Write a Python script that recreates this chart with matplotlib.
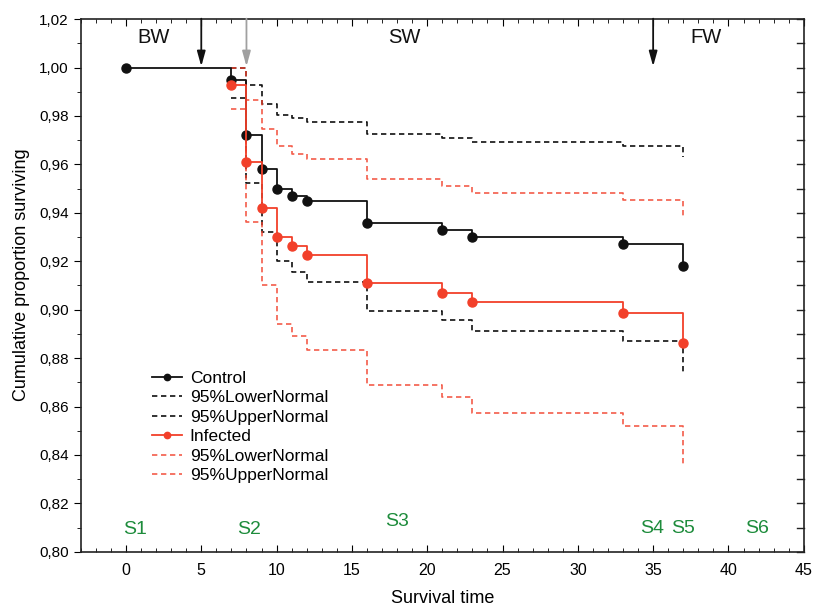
import matplotlib
matplotlib.use('Agg')
import matplotlib.pyplot as plt
from matplotlib.ticker import MultipleLocator, FuncFormatter

plt.rcParams['font.family'] = ['Liberation Sans', 'DejaVu Sans']

# event times (days) and Kaplan-Meier estimates
t_control = [0, 7, 8, 9, 10, 11, 12, 16, 21, 23, 33, 37]
s_control = [1.000, 0.995, 0.972, 0.958, 0.950, 0.947, 0.945, 0.936, 0.933, 0.930, 0.927, 0.918]
t_infected = [0, 7, 8, 9, 10, 11, 12, 16, 21, 23, 33, 37]
s_infected = [1.000, 0.993, 0.961, 0.942, 0.930, 0.9265, 0.9226, 0.911, 0.907, 0.903, 0.8987, 0.8863]

# 95% normal confidence bands
t_ci = [7, 8, 9, 10, 11, 12, 16, 21, 23, 33, 37]
control_lower = [0.9873, 0.9522, 0.932, 0.9199, 0.9155, 0.9116, 0.8996, 0.8958, 0.8911, 0.887, 0.8732]
control_upper = [1.000, 0.9926, 0.985, 0.9805, 0.9792, 0.9774, 0.9726, 0.971, 0.9692, 0.9675, 0.963]
infected_lower = [0.9829, 0.9361, 0.910, 0.8941, 0.8893, 0.8835, 0.8687, 0.8638, 0.8574, 0.8521, 0.8363]
infected_upper = [1.000, 0.9867, 0.9747, 0.9675, 0.9644, 0.9623, 0.954, 0.951, 0.9482, 0.9455, 0.9375]

# water-phase transfers and sampling points
phase_labels = ['BW', 'SW', 'FW']
phase_x = [1.8, 18.5, 38.5]
transfer_x = [5, 8, 35]
transfer_colors = ['#111111', '#a0a0a0', '#111111']
sample_labels = ['S1', 'S2', 'S3', 'S4', 'S5', 'S6']
sample_x = [0.6, 8.2, 18.0, 34.9, 37.0, 41.9]
sample_y = [0.8093, 0.8093, 0.8123, 0.8098, 0.8098, 0.8098]

BLACK = '#111111'
RED = '#f2402a'
GREEN = '#1e8c3c'

fig = plt.figure(figsize=(8.16, 6.08), dpi=100)
ax = fig.add_axes([0.099, 0.0925, 0.886, 0.876])

dash = (0, (3.2, 2.2))
ax.plot(t_ci, control_lower, color=BLACK, ls=dash, lw=1.2, drawstyle='steps-post',
        label='95%LowerNormal')
ax.plot(t_ci, control_upper, color=BLACK, ls=dash, lw=1.2, drawstyle='steps-post',
        label='95%UpperNormal')
ax.plot(t_ci, infected_lower, color=RED, ls=dash, lw=1.2, drawstyle='steps-post', alpha=0.85,
        label='95%LowerNormal')
ax.plot(t_ci, infected_upper, color=RED, ls=dash, lw=1.2, drawstyle='steps-post', alpha=0.85,
        label='95%UpperNormal')

ax.plot(t_control, s_control, color=BLACK, lw=1.3, drawstyle='steps-post',
        marker='o', ms=6.5, label='Control')
ax.plot(t_infected[1:], s_infected[1:], color=RED, lw=1.3, drawstyle='steps-post',
        marker='o', ms=6.5, label='Infected')

for x, c in zip(transfer_x, transfer_colors):
    ax.annotate('', xy=(x, 1.0005), xytext=(x, 1.0202),
                arrowprops=dict(arrowstyle='-|>,head_length=0.9,head_width=0.25',
                                color=c, lw=1.3, shrinkA=0, shrinkB=0))

for lab, x in zip(phase_labels, phase_x):
    ax.text(x, 1.0125, lab, fontsize=14.5, ha='center', va='center', color=BLACK)

for lab, x, y in zip(sample_labels, sample_x, sample_y):
    ax.text(x, y, lab, fontsize=14, ha='center', va='center', color=GREEN)

ax.set_xlim(-3, 45)
ax.set_ylim(0.80, 1.02)
ax.xaxis.set_major_locator(MultipleLocator(5))
ax.xaxis.set_minor_locator(MultipleLocator(1))
ax.yaxis.set_major_locator(MultipleLocator(0.02))
ax.yaxis.set_minor_locator(MultipleLocator(0.01))
ax.yaxis.set_major_formatter(FuncFormatter(lambda v, p: f'{v:.2f}'.replace('.', ',')))
ax.tick_params(axis='x', which='both', direction='in', top=True, labelsize=11.5, pad=8)
ax.tick_params(axis='x', which='major', length=5)
ax.tick_params(axis='x', which='minor', length=3)
ax.tick_params(axis='y', which='both', direction='out', labelsize=11)
ax.tick_params(axis='y', which='major', length=5)
ax.tick_params(axis='y', which='minor', length=3)
for s in ax.spines.values():
    s.set_linewidth(1.2)
    s.set_color('#222222')

# inward ticks along the right edge
for y in [0.80 + 0.01 * i for i in range(23)]:
    ax.plot([44.55, 45], [y, y], color='#222222', lw=1, clip_on=False)

ax.set_xlabel('Survival time', fontsize=13)
ax.xaxis.set_label_coords(0.5, -0.072)
ax.set_ylabel('Cumulative proportion surviving', fontsize=13)
ax.yaxis.set_label_coords(-0.07, 0.52)

handles, labels = ax.get_legend_handles_labels()
order = [4, 0, 1, 5, 2, 3]
ax.legend([handles[i] for i in order], [labels[i] for i in order],
          loc='upper left', bbox_to_anchor=(0.099, 0.34), frameon=False,
          fontsize=12.5, handlelength=1.7, handletextpad=0.45, labelspacing=0.25,
          borderpad=0, borderaxespad=0, markerscale=0.7)

fig.savefig('out.png', dpi=100, facecolor='white')
